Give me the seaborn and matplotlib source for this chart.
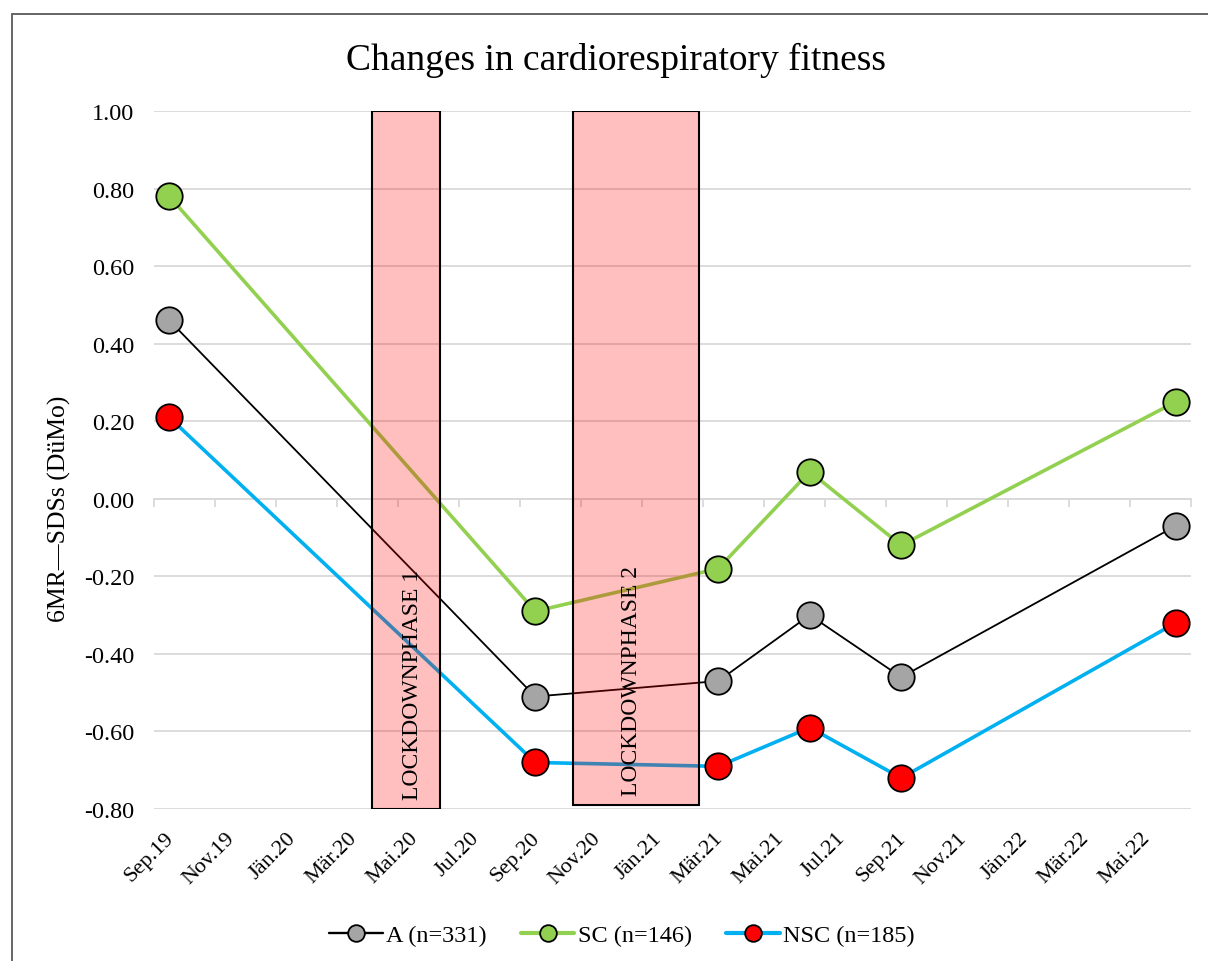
import pandas as pd
import matplotlib.pyplot as plt
import matplotlib.patches as mpatches
import matplotlib.transforms as mtransforms
from matplotlib.lines import Line2D
import seaborn as sns

# ---- data ----
DATES = ['2019-09', '2020-09', '2021-03', '2021-06', '2021-09', '2022-06']
A_VALUES = [0.46, -0.51, -0.47, -0.30, -0.46, -0.07]
SC_VALUES = [0.78, -0.29, -0.18, 0.07, -0.12, 0.25]
NSC_VALUES = [0.21, -0.68, -0.69, -0.59, -0.72, -0.32]
SERIES_NAMES = ['A (n=331)', 'SC (n=146)', 'NSC (n=185)']

TICK_LABELS = ['Sep.19', 'Nov.19', 'Jän.20', 'Mär.20', 'Mai.20', 'Jul.20',
               'Sep.20', 'Nov.20', 'Jän.21', 'Mär.21', 'Mai.21', 'Jul.21',
               'Sep.21', 'Nov.21', 'Jän.22', 'Mär.22', 'Mai.22']

# lockdown boxes, in months after Sep.19
LOCKDOWN_NAMES = ['LOCKDOWNPHASE 1', 'LOCKDOWNPHASE 2']
LOCKDOWN_START = [7.15, 13.74]
LOCKDOWN_END = [9.38, 17.87]
LOCKDOWN_LABEL_X = [8.49, 15.64]
LOCKDOWN_BOTTOM = [-0.80, -0.79]
LOCKDOWN_TOP = [1.00, 1.00]

# ---- build frame ----
start = pd.Period('2019-09', 'M')
months = [(pd.Period(d, 'M') - start).n + 0.5 for d in DATES]

df = pd.DataFrame({
    'month': months * 3,
    'value': A_VALUES + SC_VALUES + NSC_VALUES,
    'group': [SERIES_NAMES[0]] * 6 + [SERIES_NAMES[1]] * 6 + [SERIES_NAMES[2]] * 6,
})

sns.set_theme(style='white')
plt.rcParams['font.family'] = ['Liberation Serif', 'DejaVu Serif']
plt.rcParams['text.color'] = 'black'
plt.rcParams['xtick.color'] = 'black'
plt.rcParams['ytick.color'] = 'black'

fig = plt.figure(figsize=(12.08, 9.62), dpi=100)
ax = fig.add_axes([154 / 1208, 1 - 810 / 962, (1191 - 154) / 1208, (810 - 112) / 962])

line_colors = ['black', '#92D050', '#00B0F0']
face_colors = ['#A5A5A5', '#92D050', '#FF0000']
line_widths = [1.3, 2.6, 2.6]

for name, lc, fc, lw in zip(SERIES_NAMES, line_colors, face_colors, line_widths):
    sns.lineplot(
        data=df[df['group'] == name],
        x='month',
        y='value',
        color=lc,
        linewidth=lw,
        marker='o',
        markersize=19,
        markerfacecolor=fc,
        markeredgecolor='black',
        markeredgewidth=1.3,
        ax=ax,
        zorder=3,
        clip_on=False,
    )

# lockdown boxes on top of the lines (semi transparent)
for name, x0, x1, xl, y0, y1 in zip(LOCKDOWN_NAMES, LOCKDOWN_START, LOCKDOWN_END,
                                    LOCKDOWN_LABEL_X, LOCKDOWN_BOTTOM, LOCKDOWN_TOP):
    ax.add_patch(mpatches.Rectangle(
        (x0, y0), x1 - x0, y1 - y0,
        facecolor=(1, 0, 0, 0.25),
        edgecolor='black',
        linewidth=1.5,
        zorder=5,
    ))
    ax.text(
        xl, y0 + 0.025, name,
        rotation=90, ha='center', va='bottom',
        fontsize=17, zorder=6,
    )

ax.set_xlim(0, 34)
ax.set_ylim(-0.8, 1.0)
ax.set_yticks([i / 10 for i in range(-8, 11, 2)])
ax.set_yticklabels([f'{i / 10:.2f}' for i in range(-8, 11, 2)])
ax.tick_params(axis='y', length=0, labelsize=17.5, pad=14)

ax.set_xticks([i * 2 + 0.5 for i in range(len(TICK_LABELS))])
ax.set_xticklabels(TICK_LABELS, rotation=45, ha='right', va='top',
                   rotation_mode='anchor', fontsize=16)
ax.tick_params(axis='x', length=0, pad=14)
shift = mtransforms.ScaledTranslation(-5 / 100, 0, fig.dpi_scale_trans)
for lab in ax.get_xticklabels():
    lab.set_transform(lab.get_transform() + shift)

ax.set_xlabel('')
ax.set_ylabel('')
ax.yaxis.grid(True, color='#D9D9D9', linewidth=1.3)
ax.set_axisbelow(True)
sns.despine(ax=ax, left=True, bottom=True)

# horizontal axis line at zero with tick marks every two months
sec = ax.secondary_xaxis(0.8 / 1.8)
sec.set_xticks(range(0, 35, 2))
sec.tick_params(axis='x', length=6, width=1.3, color='#D9D9D9',
                labelbottom=False, direction='out')
sec.spines['bottom'].set_color('#D9D9D9')
sec.spines['bottom'].set_linewidth(1.3)

fig.text(59 / 1208, 1 - 509 / 962, '6MR\u2014SDSs (DüMo)',
         rotation=90, ha='center', va='center', fontsize=18.5)

fig.text(616 / 1208, 1 - 60 / 962, 'Changes in cardiorespiratory fitness',
         ha='center', va='center', fontsize=27)

handles = [
    Line2D([], [], color=lc, linewidth=lw + 0.4, marker='o', markersize=12,
           markerfacecolor=fc, markeredgecolor='black', markeredgewidth=1.3)
    for lc, fc, lw in zip(line_colors, face_colors, line_widths)
]
fig.legend(handles, SERIES_NAMES, loc='center', bbox_to_anchor=(0.515, 0.027),
           ncol=3, frameon=False, fontsize=17.5, handlelength=2.2,
           handletextpad=0.15, columnspacing=1.4)

# chart border
fig.patches.append(mpatches.Rectangle(
    (12 / 1208, -0.05), 1.1, 1 - 15 / 962 + 0.05,
    transform=fig.transFigure, fill=False,
    edgecolor='#595959', linewidth=1.3,
))

fig.savefig('out.png', dpi=100)
